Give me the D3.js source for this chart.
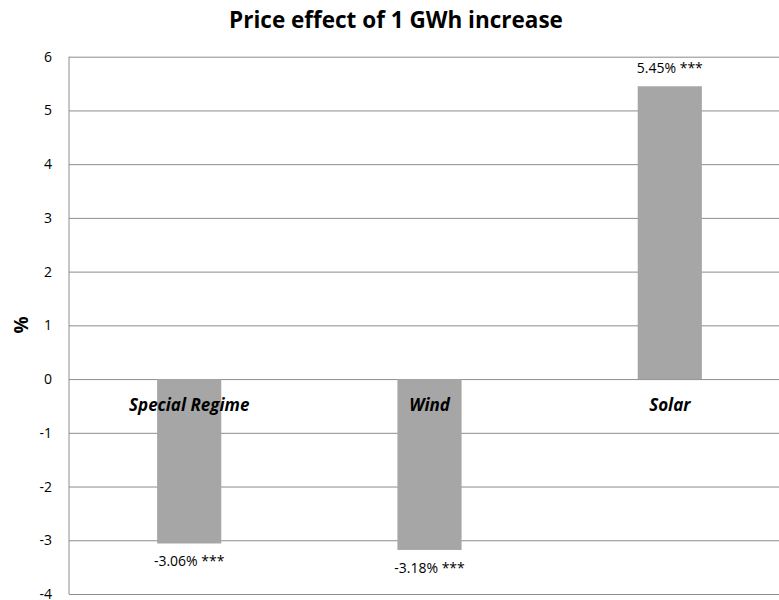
<!DOCTYPE html>
<html>
<head>
<meta charset="utf-8">
<script src="https://cdn.jsdelivr.net/npm/d3@7"></script>
<style>
  body { margin: 0; background: #fff; }
  svg { display: block; font-family: "Open Sans", sans-serif; }
</style>
</head>
<body>
<div class="chart"></div>
<script>
const categories = ['Special Regime', 'Wind', 'Solar'];
const values = [-3.06, -3.18, 5.45];
const valueLabels = ['-3.06% ***', '-3.18% ***', '5.45% ***'];
const yTicks = [-4, -3, -2, -1, 0, 1, 2, 3, 4, 5, 6];

let w = 779,
    h = 600,
    mLeft = 69,
    mRight = 790,
    mTop = 56.7,
    mBottom = 594;

const svg = d3.select('.chart')
              .append('svg')
              .attr('width', w)
              .attr('height', h)

const xScale = d3.scaleBand()
                 .domain(categories)
                 .range([mLeft, mRight])
                 .paddingInner(0.733)
                 .paddingOuter(0.3667)

const yScale = d3.scaleLinear()
                 .domain([-4, 6])
                 .range([mBottom, mTop])

// gridlines
const yAxis = d3.axisLeft(yScale)
                .tickValues(yTicks)
                .tickSize(-(mRight - mLeft))
                .tickPadding(17)
                .tickFormat(d => String(d))

const gy = svg.append('g')
              .attr('transform', `translate(${mLeft},0)`)
              .call(yAxis)
gy.select('.domain').remove()
gy.selectAll('.tick line').attr('stroke', '#8c8c8c').attr('stroke-width', 1)
gy.selectAll('.tick text')
  .attr('fill', '#000')
  .style('font-family', '"Open Sans", sans-serif')
  .style('font-size', '14px')

// left axis line
svg.append('line')
   .attr('x1', mLeft).attr('x2', mLeft)
   .attr('y1', yScale(6)).attr('y2', yScale(-4))
   .attr('stroke', '#8c8c8c')

// bars
svg.selectAll('rect.bar')
   .data(values)
   .enter()
   .append('rect')
   .attr('class', 'bar')
   .attr('x', (d, i) => xScale(categories[i]))
   .attr('width', xScale.bandwidth())
   .attr('y', d => yScale(Math.max(0, d)))
   .attr('height', d => Math.abs(yScale(d) - yScale(0)))
   .attr('fill', '#a6a6a6')

// value labels
svg.selectAll('text.val')
   .data(values)
   .enter()
   .append('text')
   .attr('class', 'val')
   .attr('x', (d, i) => xScale(categories[i]) + xScale.bandwidth() / 2)
   .attr('y', d => d >= 0 ? yScale(d) - 13 : yScale(d) + 23)
   .attr('text-anchor', 'middle')
   .style('font-size', '14px')
   .text((d, i) => valueLabels[i])

// category labels just under zero line
svg.selectAll('text.cat')
   .data(categories)
   .enter()
   .append('text')
   .attr('class', 'cat')
   .attr('x', d => xScale(d) + xScale.bandwidth() / 2)
   .attr('y', yScale(0) + 32)
   .attr('text-anchor', 'middle')
   .style('font-size', '17px')
   .style('font-weight', 'bold')
   .style('font-style', 'italic')
   .text(d => d)

// title
svg.append('text')
   .attr('x', 396)
   .attr('y', 28)
   .attr('text-anchor', 'middle')
   .style('font-size', '22.5px')
   .style('font-weight', 'bold')
   .text('Price effect of 1 GWh increase')

// y axis title
svg.append('text')
   .attr('transform', `translate(28,325) rotate(-90)`)
   .attr('text-anchor', 'middle')
   .style('font-size', '19px')
   .style('font-weight', 'bold')
   .text('%')
</script>
</body>
</html>
